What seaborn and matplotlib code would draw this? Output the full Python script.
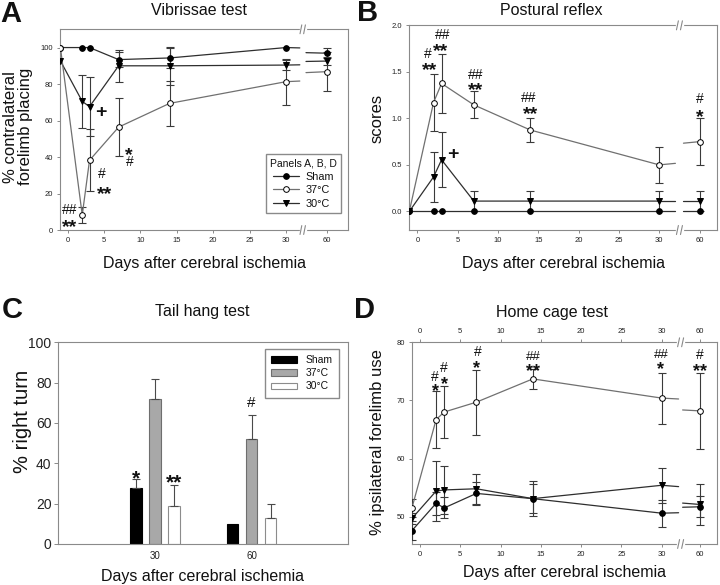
import numpy as np
import pandas as pd
import matplotlib
matplotlib.use("Agg")
import matplotlib.pyplot as plt
import seaborn as sns
from matplotlib.lines import Line2D
from matplotlib.patches import Patch
from matplotlib.transforms import blended_transform_factory

# ---- data ----
days = [-1, 2, 3, 7, 14, 30, 60]
groups = ["Sham", "37°C", "30°C"]

# A: vibrissae test, % contralateral forelimb placing
vib_sham = [100, 100, 100, 93.4, 94.3, 100, 96.9]
vib_sham_err = [0, 0, 0, 3.9, 5.7, 0, 2.8]
vib_37 = [100, 8.2, 38.2, 56.4, 69.4, 81.3, 86.8]
vib_37_err = [0, 4.5, 17.0, 15.9, 12.2, 12.6, 10.5]
vib_30 = [92.7, 70.5, 67.6, 90.0, 90.0, 90.4, 92.6]
vib_30_err = [0, 14.5, 16.0, 8.7, 10.5, 2.8, 2.0]

# B: postural reflex scores
post_sham = [0, 0, 0, 0, 0, 0, 0]
post_sham_err = [0, 0, 0, 0, 0, 0, 0]
post_37 = [0, 1.17, 1.375, 1.145, 0.875, 0.50, 0.75]
post_37_err = [0, 0.31, 0.32, 0.145, 0.125, 0.19, 0.25]
post_30 = [0, 0.37, 0.555, 0.111, 0.111, 0.111, 0.111]
post_30_err = [0, 0.27, 0.295, 0.111, 0.111, 0.111, 0.111]

# C: tail hang test, % right turn
tail_days = ["30", "60"]
tail_sham = [28.0, 10.0]
tail_sham_err = [4.0, 0.0]
tail_37 = [71.7, 51.9]
tail_37_err = [10.1, 11.9]
tail_30 = [19.0, 13.1]
tail_30_err = [10.3, 6.6]

# D: home cage test, % ipsilateral forelimb use
home_sham = [47.6, 52.3, 51.5, 54.0, 53.1, 50.6, 51.7]
home_sham_err = [1.6, 2.0, 1.8, 2.0, 2.5, 2.3, 1.8]
home_37 = [51.5, 66.7, 68.0, 69.7, 73.7, 70.4, 68.2]
home_37_err = [1.6, 4.9, 4.4, 5.6, 1.7, 4.4, 6.6]
home_30 = [49.7, 54.4, 54.6, 54.8, 53.1, 55.4, 52.1]
home_30_err = [1.0, 5.2, 4.2, 2.6, 3.0, 3.0, 3.6]

# ---- style ----
sns.set_theme(style="ticks")
plt.rcParams["font.family"] = ["Liberation Sans", "DejaVu Sans"]
GRAY = "#8a8a8a"
plt.rcParams.update({
    "axes.edgecolor": GRAY, "axes.linewidth": 0.8,
    "xtick.color": GRAY, "ytick.color": GRAY,
    "xtick.labelcolor": "#222222", "ytick.labelcolor": "#222222",
    "text.color": "#111111", "axes.labelcolor": "#111111",
    "xtick.major.width": 0.7, "ytick.major.width": 0.7,
})

styles = {
    "Sham": dict(marker="o", mfc="black", line="#2e2e2e", ms=4.1),
    "37°C": dict(marker="o", mfc="white", line="#707070", ms=4.1),
    "30°C": dict(marker="v", mfc="black", line="#2e2e2e", ms=4.6),
}

fig = plt.figure(figsize=(7.2, 5.85), dpi=100)
axA = fig.add_axes([0.0833, 0.6068, 0.4004, 0.3431])
axB = fig.add_axes([0.5685, 0.6068, 0.4278, 0.3499])
axC = fig.add_axes([0.0810, 0.0701, 0.4028, 0.3448])
axD = fig.add_axes([0.5718, 0.0701, 0.4244, 0.3448])


def draw_series(ax, name, vals, errs, pos60, stub, z):
    st = styles[name]
    x = np.array(days[:-1] + [pos60], dtype=float)
    v = np.array(vals, dtype=float)
    e = np.array(errs, dtype=float)
    m = e > 0
    ax.errorbar(x[m], v[m], yerr=e[m], fmt="none", ecolor="#3a3a3a",
                elinewidth=0.8, capsize=2.6, capthick=0.8, zorder=z)
    ax.plot(days[:-1], vals[:-1], color=st["line"], lw=0.9, zorder=z)
    # short pieces either side of the axis break
    right_day = 60 - (pos60 - stub[1])
    vl = np.interp(stub[0], [30, 60], [vals[-2], vals[-1]])
    vr = np.interp(right_day, [30, 60], [vals[-2], vals[-1]])
    ax.plot([30, stub[0]], [vals[-2], vl], color=st["line"], lw=0.9, zorder=z)
    ax.plot([stub[1], pos60], [vr, vals[-1]], color=st["line"], lw=0.9, zorder=z)
    ax.plot(x, v, ls="none", marker=st["marker"], ms=st["ms"], mfc=st["mfc"],
            mec="black", mew=0.7, zorder=z + 0.5)


def axis_break(ax, brk):
    tr = blended_transform_factory(ax.transData, ax.transAxes)
    for y in (0, 1):
        ax.plot([brk - 0.3, brk + 0.3], [y, y], color="white", lw=2.5,
                transform=tr, clip_on=False, zorder=5)
        for dx in (-0.25, 0.25):
            ax.plot([brk + dx - 0.12, brk + dx + 0.12], [y - 0.022, y + 0.022],
                    color=GRAY, lw=0.8, transform=tr, clip_on=False, zorder=6)


def mark(ax, x, y, s, size):
    star = "*" in s
    off = -0.31 * size if star else 0
    weight = "bold" if (star or s == "+") else "normal"
    ax.annotate(s, (x, y), xytext=(0, off), textcoords="offset points",
                ha="center", va="center", fontsize=size, fontweight=weight)


def day_axis(ax, xlim, pos60, brk):
    ax.set_xlim(*xlim)
    ax.set_xticks([0, 5, 10, 15, 20, 25, 30, pos60])
    ax.set_xticklabels(["0", "5", "10", "15", "20", "25", "30", "60"])
    ax.tick_params(labelsize=5.5, length=2.5, pad=2.5)
    axis_break(ax, brk)
    for sp in ax.spines.values():
        sp.set_visible(True)


# ---- A: vibrissae test ----
posA = 35.67
for name, v, e in [("Sham", vib_sham, vib_sham_err), ("30°C", vib_30, vib_30_err),
                   ("37°C", vib_37, vib_37_err)]:
    draw_series(axA, name, v, e, posA, (31.9, 32.75), 3)
day_axis(axA, (-1.06, 38.56), posA, 32.3)
axA.set_ylim(0, 110)
axA.set_yticks([0, 20, 40, 60, 80, 100])
for x, y, s, size in [(0.32, 10.9, "##", 10), (0.32, 4.4, "**", 14),
                      (4.67, 30.5, "#", 10), (5.1, 22.7, "**", 14),
                      (4.58, 64.2, "+", 14), (8.42, 44.0, "*", 14),
                      (8.5, 37.2, "#", 10)]:
    mark(axA, x, y, s, size)
handles = [Line2D([], [], color=styles[g]["line"], lw=0.9, marker=styles[g]["marker"],
                  ms=styles[g]["ms"], mfc=styles[g]["mfc"], mec="black", mew=0.7)
           for g in groups]
axA.legend(handles, groups, title="Panels A, B, D", loc="lower right",
           bbox_to_anchor=(0.975, 0.085), fontsize=7.8, title_fontsize=7.5,
           frameon=True, fancybox=False, edgecolor=GRAY, framealpha=1,
           handlelength=2.4, handletextpad=0.6, labelspacing=0.32,
           borderpad=0.4, borderaxespad=0)
axA.set_ylabel("% contralateral\nforelimb placing", fontsize=12, linespacing=1.0)
axA.yaxis.set_label_coords(-0.094, 0.515)
axA.set_xlabel("Days after cerebral ischemia", fontsize=11.5)
axA.xaxis.label.set_va("baseline")
axA.xaxis.set_label_coords(0.5, -0.188)
axA.text(0.481, 1.071, "Vibrissae test", transform=axA.transAxes, ha="center",
         va="baseline", fontsize=11.5)

# ---- B: postural reflex ----
posB = 35.0
for name, v, e in [("37°C", post_37, post_37_err), ("30°C", post_30, post_30_err),
                   ("Sham", post_sham, post_sham_err)]:
    draw_series(axB, name, v, e, posB, (32.0, 33.0), 3)
day_axis(axB, (-1.0, 37.2), posB, 32.5)
axB.set_ylim(-0.2, 2.0)
axB.set_yticks([0, 0.5, 1.0, 1.5, 2.0])
axB.set_yticklabels(["0.0", "0.5", "1.0", "1.5", "2.0"])
for x, y, s, size in [(1.24, 1.69, "#", 10), (1.52, 1.574, "**", 14),
                      (3.09, 1.896, "##", 10), (2.89, 1.78, "**", 14),
                      (7.22, 1.467, "##", 10), (7.22, 1.36, "**", 14),
                      (13.8, 1.223, "##", 10), (14.0, 1.109, "**", 14),
                      (posB, 1.206, "#", 10), (posB, 1.073, "*", 14),
                      (4.45, 0.608, "+", 14)]:
    mark(axB, x, y, s, size)
axB.set_ylabel("scores", fontsize=12)
axB.yaxis.set_label_coords(-0.079, 0.545)
axB.set_xlabel("Days after cerebral ischemia", fontsize=11.5)
axB.xaxis.label.set_va("baseline")
axB.xaxis.set_label_coords(0.502, -0.184)
axB.text(0.461, 1.050, "Postural reflex", transform=axB.transAxes, ha="center",
         va="baseline", fontsize=11.5)

# ---- C: tail hang test ----
tail = pd.DataFrame({
    "day": tail_days * 3,
    "group": np.repeat(groups, len(tail_days)),
    "pct": tail_sham + tail_37 + tail_30,
})
bar_fill = ["#000000", "#a8a8a8", "#ffffff"]
bar_edge = ["#000000", "#6e6e6e", "#8c8c8c"]
sns.barplot(data=tail, x="day", y="pct", hue="group", hue_order=groups,
            palette=bar_fill, width=0.59, gap=0.39, errorbar=None,
            saturation=1, legend=False, ax=axC)
for cont, ec, errs in zip(axC.containers, bar_edge,
                          [tail_sham_err, tail_37_err, tail_30_err]):
    xs, hs, es = [], [], []
    for bar, err in zip(cont, errs):
        bar.set_edgecolor(ec)
        bar.set_linewidth(0.8)
        if err > 0:
            xs.append(bar.get_x() + bar.get_width() / 2)
            hs.append(bar.get_height())
            es.append(err)
    axC.errorbar(xs, hs, yerr=[np.zeros(len(es)), es], fmt="none", ecolor="#4a4a4a",
                 elinewidth=0.8, capsize=3, capthick=0.8)
axC.set_xlim(-1, 2)
axC.set_ylim(0, 100)
axC.set_yticks([0, 20, 40, 60, 80, 100])
axC.tick_params(axis="y", labelsize=10, length=3, pad=2)
axC.tick_params(axis="x", labelsize=7, length=0, pad=5)
for sp in axC.spines.values():
    sp.set_visible(True)
for x, y, s, size in [(-0.197, 35.7, "*", 15), (0.197, 33.4, "**", 15),
                      (1.0, 70.1, "#", 11)]:
    mark(axC, x, y, s, size)
axC.legend([Patch(facecolor=f, edgecolor=e, lw=0.8) for f, e in zip(bar_fill, bar_edge)],
           groups, loc="upper right", bbox_to_anchor=(0.968, 0.967), fontsize=7.5,
           frameon=True, fancybox=False, edgecolor=GRAY, framealpha=1,
           handlelength=2.5, handleheight=0.55, handletextpad=0.8,
           labelspacing=0.3, borderpad=0.6, borderaxespad=0)
axC.set_ylabel("% right turn", fontsize=14.5)
axC.yaxis.set_label_coords(-0.092, 0.606)
axC.set_xlabel("Days after cerebral ischemia", fontsize=11.5)
axC.xaxis.label.set_va("baseline")
axC.xaxis.set_label_coords(0.498, -0.183)
axC.text(0.497, 1.130, "Tail hang test", transform=axC.transAxes, ha="center",
         va="baseline", fontsize=11.5)

# ---- D: home cage test ----
posD = 34.75
for name, v, e in [("37°C", home_37, home_37_err), ("30°C", home_30, home_30_err),
                   ("Sham", home_sham, home_sham_err)]:
    draw_series(axD, name, v, e, posD, (32.1, 32.6), 3)
day_axis(axD, (-1.03, 36.9), posD, 32.35)
axD.tick_params(axis="x", top=True, labeltop=True)
axD.set_ylim(45.3, 80)
axD.set_yticks([50, 60, 70, 80])
for x, y, s, size in [(1.78, 74.1, "#", 10), (1.94, 72.4, "*", 13),
                      (2.9, 75.6, "#", 10), (2.98, 73.7, "*", 13),
                      (7.2, 78.4, "#", 10), (7.03, 76.4, "*", 13),
                      (14.06, 77.5, "##", 9.5), (14.06, 76.0, "**", 13),
                      (29.9, 77.8, "##", 9.5), (29.9, 76.2, "*", 13),
                      (posD, 77.8, "#", 10), (posD, 76.0, "**", 13)]:
    mark(axD, x, y, s, size)
axD.set_ylabel("% ipsilateral forelimb use", fontsize=12)
axD.yaxis.set_label_coords(-0.087, 0.507)
axD.set_xlabel("Days after cerebral ischemia", fontsize=11.5)
axD.xaxis.label.set_va("baseline")
axD.xaxis.set_label_coords(0.499, -0.165)
axD.text(0.458, 1.127, "Home cage test", transform=axD.transAxes, ha="center",
         va="baseline", fontsize=11.5)

# panel letters
for x, y, s in [(0.0, 0.962, "A"), (0.496, 0.964, "B"),
                (0.002, 0.456, "C"), (0.492, 0.456, "D")]:
    fig.text(x, y, s, fontsize=21, fontweight="bold", va="baseline", ha="left")

fig.savefig("out.png", dpi=100)
